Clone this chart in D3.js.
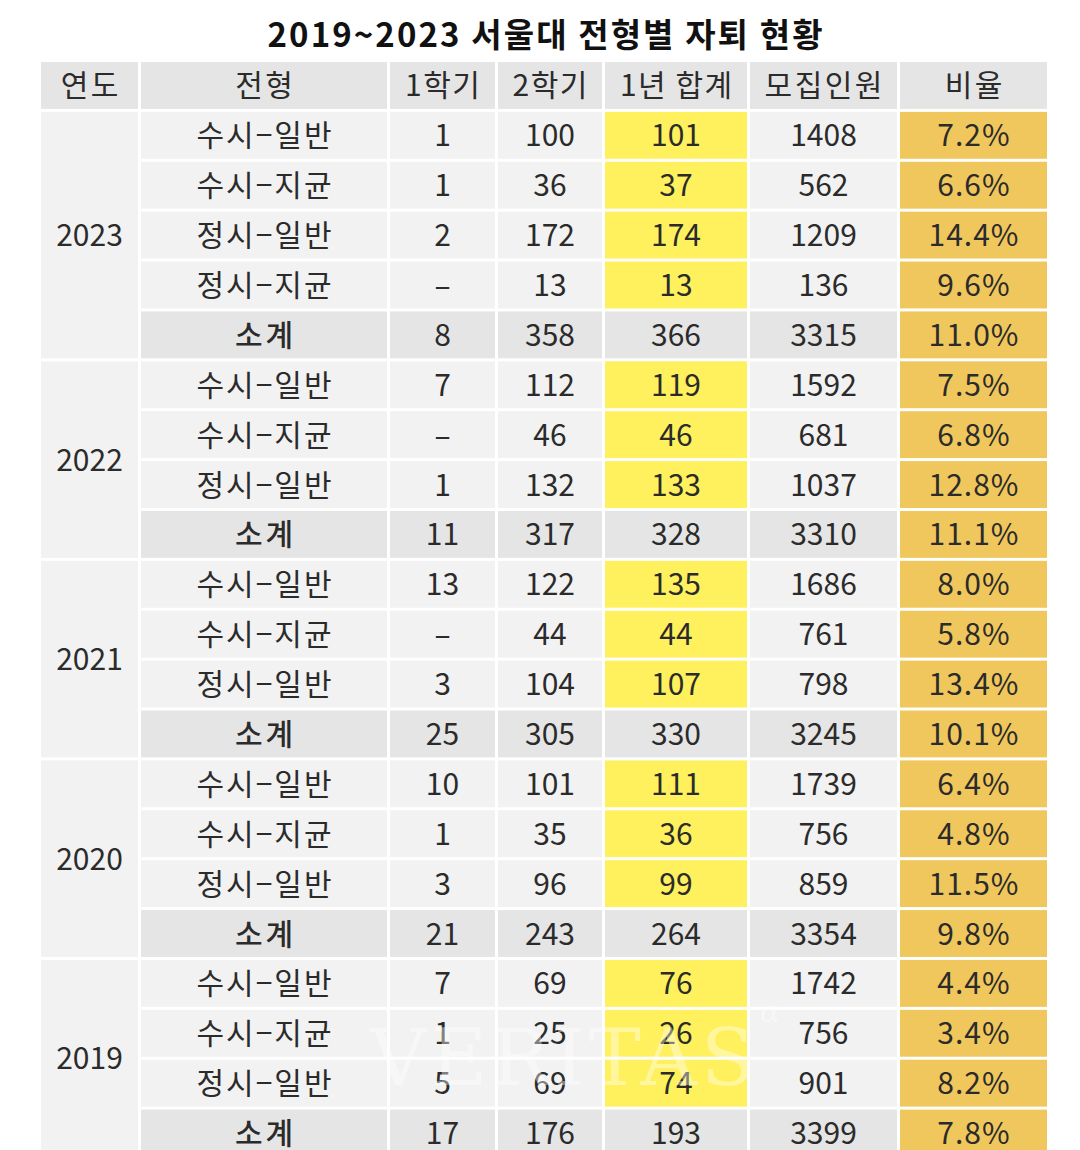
<!DOCTYPE html>
<html><head><meta charset="utf-8">
<script src="https://cdn.jsdelivr.net/npm/d3@7"></script>
<style>html,body{margin:0;padding:0;background:#fff;}svg{display:block;}</style>
</head><body>
<script>
const title = "2019~2023 서울대 전형별 자퇴 현황";
const headers = ["연도","전형","1학기","2학기","1년 합계","모집인원","비율"];
const years = ["2023","2022","2021","2020","2019"];
const groupTypes = [
  ["수시-일반","수시-지균","정시-일반","정시-지균","소계"],
  ["수시-일반","수시-지균","정시-일반","소계"],
  ["수시-일반","수시-지균","정시-일반","소계"],
  ["수시-일반","수시-지균","정시-일반","소계"],
  ["수시-일반","수시-지균","정시-일반","소계"]
];
const sem1 = [
  ["1","1","2","–","8"],
  ["7","–","1","11"],
  ["13","–","3","25"],
  ["10","1","3","21"],
  ["7","1","5","17"]
];
const sem2 = [
  [100,36,172,13,358],
  [112,46,132,317],
  [122,44,104,305],
  [101,35,96,243],
  [69,25,69,176]
];
const yearTotal = [
  [101,37,174,13,366],
  [119,46,133,328],
  [135,44,107,330],
  [111,36,99,264],
  [76,26,74,193]
];
const quota = [
  [1408,562,1209,136,3315],
  [1592,681,1037,3310],
  [1686,761,798,3245],
  [1739,756,859,3354],
  [1742,756,901,3399]
];
const ratio = [
  ["7.2%","6.6%","14.4%","9.6%","11.0%"],
  ["7.5%","6.8%","12.8%","11.1%"],
  ["8.0%","5.8%","13.4%","10.1%"],
  ["6.4%","4.8%","11.5%","9.8%"],
  ["4.4%","3.4%","8.2%","7.8%"]
];

const W = 1080, H = 1150;
const svg = d3.select("body").append("svg").attr("width", W).attr("height", H);
const font = "'Noto Sans CJK KR','Noto Sans',sans-serif";

const rows = [];
years.forEach((yv, g) => {
  groupTypes[g].forEach((t, i) => {
    rows.push({g, year: yv, type: t, sub: t === "소계",
      vals: [t, sem1[g][i], String(sem2[g][i]), String(yearTotal[g][i]), String(quota[g][i]), ratio[g][i]]});
  });
});

const colEdges = [41, 141, 390, 498, 605, 750, 900, 1050];
const gap = 3;
const colX = i => colEdges[i];
const colW = i => colEdges[i+1] - colEdges[i] - gap;

const y = d3.scaleBand()
  .domain(d3.range(rows.length + 1))
  .range([62, 62 + (rows.length + 1) * 49.75])
  .paddingInner(0.06)
  .paddingOuter(0);

const dy = -2;

svg.append("text").attr("x", 545).attr("y", 33)
  .attr("text-anchor", "middle").attr("dominant-baseline", "central")
  .attr("font-family", font).attr("font-weight", 700).attr("font-size", 33)
  .attr("textLength", 555).attr("lengthAdjust", "spacing")
  .attr("fill", "#111").text(title);

const textColor = "#2b2b2b";

function cellText(x, yy, txt, opts) {
  const ls = opts.ls || 0;
  return svg.append("text").attr("x", x + ls/2).attr("y", yy)
    .attr("text-anchor", "middle").attr("dominant-baseline", "central")
    .attr("font-family", font).attr("font-size", opts.fs || 30).attr("fill", textColor)
    .attr("font-weight", opts.fw || 400)
    .attr("letter-spacing", ls)
    .text(txt);
}

headers.forEach((h, i) => {
  svg.append("rect").attr("x", colX(i)).attr("y", y(0)).attr("width", colW(i)).attr("height", y.bandwidth()).attr("fill", "#e5e5e5");
  cellText(colX(i) + colW(i)/2, y(0) + y.bandwidth()/2 + dy, h, {fs: 30, ls: /\d/.test(h) ? 1.5 : 2.5});
});

let idx = 1;
years.forEach((yr, g) => {
  const n = groupTypes[g].length;
  const top = y(idx), bottom = y(idx + n - 1) + y.bandwidth();
  svg.append("rect").attr("x", colX(0)).attr("y", top).attr("width", colW(0)).attr("height", bottom - top).attr("fill", "#f2f2f2");
  cellText(colX(0) + colW(0)/2, (top + bottom)/2 + dy, yr, {fs: 30});
  idx += n;
});

rows.forEach((r, ri) => {
  const yy = y(ri + 1);
  r.vals.forEach((v, ci) => {
    const c = ci + 1;
    let fill = r.sub ? "#e5e5e5" : "#f2f2f2";
    if (c === 4 && !r.sub) fill = "#fff15e";
    if (c === 6) fill = "#f0c75c";
    svg.append("rect").attr("x", colX(c)).attr("y", yy).attr("width", colW(c)).attr("height", y.bandwidth()).attr("fill", fill);
    const isType = c === 1;
    const txt = isType ? v.replace("-", "−") : v;
    cellText(colX(c) + colW(c)/2, yy + y.bandwidth()/2 + dy, txt, {
      fs: 30,
      ls: isType ? (r.sub ? 3 : 2) : (c === 6 ? 1 : 0),
      fw: (isType && r.sub) ? 500 : 400
    });
  });
});

svg.append("text").attr("x", 370).attr("y", 1085)
  .attr("font-family", "'DejaVu Serif','Liberation Serif',serif").attr("font-size", 78)
  .attr("fill", "#ffffff").attr("opacity", 0.4).attr("letter-spacing", 4).text("VERITAS");
svg.append("text").attr("x", 760).attr("y", 1022)
  .attr("font-family", "'DejaVu Serif','Liberation Serif',serif").attr("font-style", "italic").attr("font-size", 30)
  .attr("fill", "#ffffff").attr("opacity", 0.4).text("α");
</script>
</body></html>
